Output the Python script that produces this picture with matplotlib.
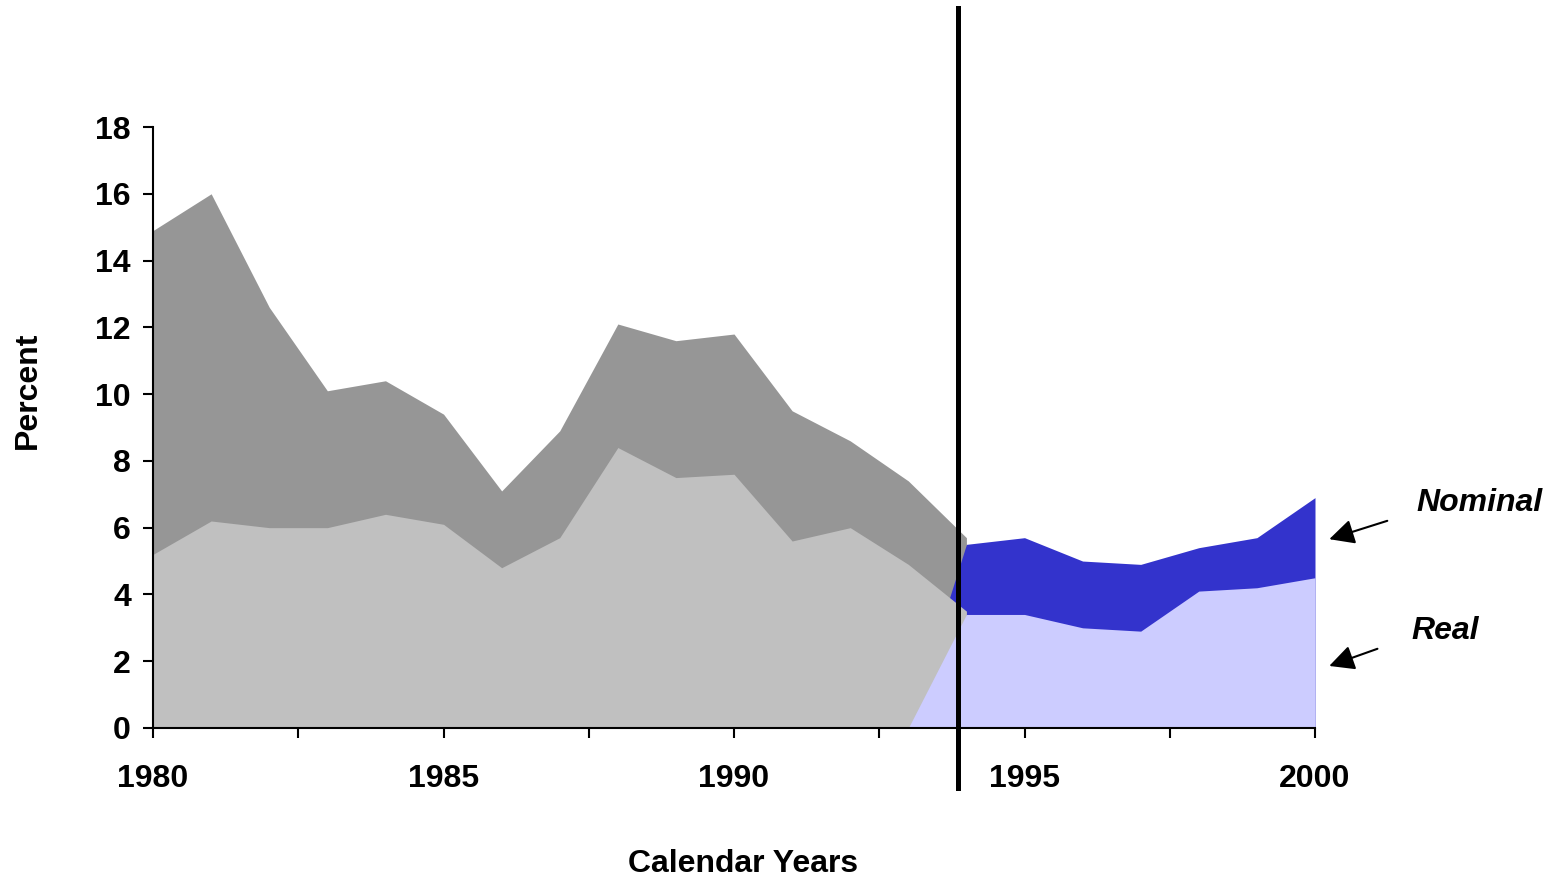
import matplotlib.pyplot as plt
import numpy as np

# Data (percent)
years_early = list(range(1980, 1995))
nominal_early = [14.9, 16.0, 12.6, 10.1, 10.4, 9.4, 7.1, 8.9, 12.1, 11.6, 11.8, 9.5, 8.6, 7.4, 5.7]
real_early = [5.2, 6.2, 6.0, 6.0, 6.4, 6.1, 4.8, 5.7, 8.4, 7.5, 7.6, 5.6, 6.0, 4.9, 3.5]

years_late = list(range(1993, 2001))
nominal_late = [0, 5.5, 5.7, 5.0, 4.9, 5.4, 5.7, 6.9]
real_late = [0, 3.4, 3.4, 3.0, 2.9, 4.1, 4.2, 4.5]

split_year = 1993.86
xtick_pos = np.arange(1980, 2000.1, 2.5)
xtick_labels = ['1980', '', '1985', '', '1990', '', '1995', '', '2000']

plt.rcParams['font.family'] = ['Liberation Sans', 'DejaVu Sans']
plt.rcParams['font.weight'] = 'bold'

fig = plt.figure(figsize=(15.54, 8.84), dpi=100)
ax = fig.add_axes([0.0985, 0.1765, 0.7477, 0.6798])

# z-order follows the original series order
ax.fill_between(years_early, 0, nominal_early, color='#969696', lw=0, zorder=1)
ax.fill_between(years_late, 0, nominal_late, color='#3333CC', lw=0, zorder=2)
ax.fill_between(years_early, 0, real_early, color='#C0C0C0', lw=0, zorder=3)
ax.fill_between(years_late, 0, real_late, color='#CCCCFF', lw=0, zorder=4)

ax.axvline(split_year, ymin=-0.1, ymax=1.198, color='black', lw=3.6,
           clip_on=False, zorder=6)

ax.set_xlim(1980, 2000)
ax.set_ylim(0, 18)
ax.set_yticks(range(0, 19, 2))
ax.set_xticks(xtick_pos)
ax.set_xticklabels(xtick_labels)

for s in ['top', 'right']:
    ax.spines[s].set_visible(False)
for s in ['left', 'bottom']:
    ax.spines[s].set_linewidth(1.5)
    ax.spines[s].set_zorder(5)

ax.tick_params(axis='both', direction='out', length=7, width=1.5, labelsize=23)
ax.tick_params(axis='x', pad=19)
ax.tick_params(axis='y', pad=9)
for lbl in ax.get_xticklabels() + ax.get_yticklabels():
    lbl.set_fontweight('bold')

fig.text(0.478, 0.006, 'Calendar Years', ha='center', va='bottom',
         fontsize=23, fontweight='bold')
fig.text(0.018, 0.559, 'Percent', ha='center', va='center', rotation=90,
         fontsize=23, fontweight='bold')

arrow = dict(arrowstyle='-|>', color='black', lw=1.5, mutation_scale=38)
ax.annotate('', xy=(2000.2, 5.63), xytext=(2001.29, 6.23),
            arrowprops=arrow, annotation_clip=False)
ax.annotate('', xy=(2000.2, 1.83), xytext=(2001.12, 2.40),
            arrowprops=arrow, annotation_clip=False)
ax.text(2002.84, 6.74, 'Nominal', ha='center', va='center', fontsize=23,
        fontweight='bold', fontstyle='italic', clip_on=False)
ax.text(2002.24, 2.9, 'Real', ha='center', va='center', fontsize=23,
        fontweight='bold', fontstyle='italic', clip_on=False)

fig.savefig('out.png', dpi=100)
